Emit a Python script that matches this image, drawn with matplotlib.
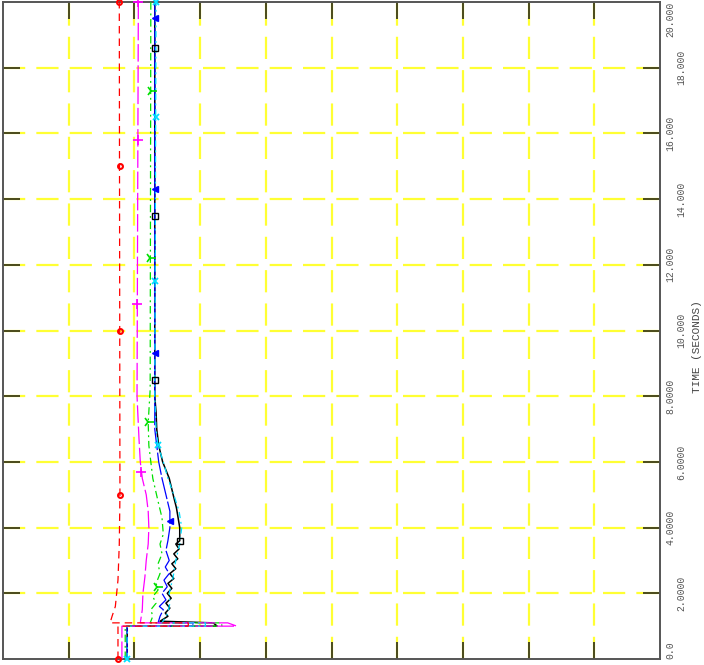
import numpy as np
import matplotlib
matplotlib.use("Agg")
import matplotlib.pyplot as plt
import matplotlib.transforms as mtransforms

# ---------------- data (time in s, value in grid units 0..10) ----------------
time_ticks = [0, 2, 4, 6, 8, 10, 12, 14, 16, 18, 20]
time_tick_labels = ["0.0", "2.0000", "4.0000", "6.0000", "8.0000", "10.000",
                    "12.000", "14.000", "16.000", "18.000", "20.000"]

black_t = [0, 1.0, 1.0, 1.1, 1.15, 1.3, 1.4, 1.55, 1.7, 1.85, 2.0, 2.15, 2.3, 2.45, 2.6,
           2.75, 2.9, 3.05, 3.2, 3.35, 3.5, 3.6, 4.0, 4.6, 5.0, 5.5, 6.0, 6.5, 7.0, 7.5, 8.0, 10.0, 20.0]
black_v = [1.89, 1.89, 3.26, 3.20, 2.39, 2.51, 2.47, 2.54, 2.48, 2.56, 2.50, 2.57, 2.51, 2.60, 2.54,
           2.63, 2.57, 2.66, 2.60, 2.68, 2.63, 2.69, 2.69, 2.64, 2.59, 2.53, 2.43, 2.37, 2.34, 2.33, 2.31, 2.31, 2.31]
black_mk = [3.6, 8.5, 13.5, 18.6]

blue_t = [0, 1.0, 1.0, 1.1, 1.1, 1.3, 1.5, 1.6, 1.8, 2.0, 2.2, 2.4, 2.6, 2.8, 3.0, 3.3, 3.6,
          4.0, 4.5, 5.0, 5.5, 6.0, 7.0, 8.0, 20.0]
blue_v = [1.89, 1.89, 2.89, 2.89, 2.36, 2.39, 2.44, 2.38, 2.48, 2.42, 2.50, 2.45, 2.53, 2.47, 2.53, 2.48, 2.51,
          2.54, 2.54, 2.48, 2.42, 2.37, 2.31, 2.31, 2.31]
blue_mk = [4.2, 9.3, 14.3, 19.5]

cyan_t = [0, 1.0, 1.0, 1.1, 1.1, 1.4, 1.7, 2.0, 2.5, 3.0, 3.5, 4.0, 4.5, 5.0, 5.5, 6.0, 6.5, 7.0, 8.0, 20.0]
cyan_v = [1.89, 1.89, 3.08, 3.08, 2.42, 2.51, 2.54, 2.53, 2.59, 2.63, 2.69, 2.72, 2.68, 2.60, 2.51, 2.44,
          2.36, 2.33, 2.31, 2.33]
cyan_mk = [0.0, 6.5, 11.5, 16.5, 20.0]

green_t = [0, 1.0, 1.0, 1.1, 1.1, 1.3, 1.5, 1.7, 1.9, 2.1, 2.3, 2.6, 2.9, 3.2, 3.5, 3.8, 4.3, 4.8,
           5.5, 6.5, 7.2, 8.2, 20.0]
green_v = [1.86, 1.86, 3.33, 3.33, 2.24, 2.28, 2.25, 2.33, 2.28, 2.36, 2.33, 2.39, 2.36, 2.42, 2.39, 2.44,
           2.42, 2.36, 2.28, 2.22, 2.21, 2.24, 2.25]
green_mk = [2.2, 7.2, 12.2, 17.3]

magenta_t = [0, 1.0, 1.0, 1.1, 1.1, 1.5, 2.0, 2.5, 3.0, 3.5, 4.0, 4.5, 5.0, 5.5, 6.0, 6.7, 8.0, 20.0]
magenta_v = [1.81, 1.81, 3.56, 3.42, 2.09, 2.12, 2.13, 2.16, 2.18, 2.21, 2.22, 2.21, 2.18, 2.12, 2.09,
             2.07, 2.04, 2.06]
magenta_mk = [5.7, 10.8, 15.8, 20.0]

red_t = [0, 1.0, 1.0, 1.1, 1.1, 1.3, 1.6, 2.4, 3.5, 5.0, 20.0]
red_v = [1.75, 1.75, 2.82, 2.82, 1.63, 1.66, 1.71, 1.75, 1.77, 1.78, 1.77]
red_mk = [0.0, 5.0, 10.0, 15.0, 20.0]

# ---------------- figure ----------------
W, H = 704, 665
fig = plt.figure(figsize=(W / 100, H / 100), dpi=100)
ax = fig.add_axes([3 / W, 6 / H, 657 / W, 657 / H])
ax.set_xlim(0, 10)
ax.set_ylim(0, 20)

grid_col = "#ffff33"
tick_col = "#4a4a1e"
for gx in range(1, 10):
    ax.axvline(gx, color=grid_col, lw=1.6, dashes=(10, 5), zorder=0)
for gy in time_ticks[1:-1]:
    ax.axhline(gy, color=grid_col, lw=1.6, dashes=(10, 5), zorder=0)

ax.set_xticks(range(1, 10))
ax.set_yticks(time_ticks[1:-1])
ax.tick_params(axis="both", which="both", direction="in", length=12, width=1.4, color=tick_col,
               top=True, bottom=True, left=True, right=True,
               labelbottom=False, labelleft=False, labeltop=False, labelright=False)
for sp in ax.spines.values():
    sp.set_color("#555555")
    sp.set_linewidth(1.4)


def draw(t, v, mk_t, color, ls, marker, ms, mfc=None, lw=0.9, mew=1.0):
    ax.plot(v, t, color=color, lw=lw, **ls, zorder=3)
    mv = np.interp(mk_t, t, v)
    ax.plot(mv, mk_t, ls="none", marker=marker, ms=ms, color=color,
            mfc=mfc if mfc is not None else color, mew=mew, zorder=4, clip_on=False)


draw(black_t, black_v, black_mk, "black", dict(ls="-"), "s", 5, mfc="none", lw=1.1)
draw(blue_t, blue_v, blue_mk, "#0000ff", dict(dashes=(18, 2)), "<", 5)
draw(green_t, green_v, green_mk, "#00e000", dict(dashes=(6, 3, 1.5, 3)), "4", 8, mew=1.2)
draw(magenta_t, magenta_v, magenta_mk, "#ff00ff", dict(dashes=(14, 3)), "+", 7, mew=1.2)
draw(cyan_t, cyan_v, cyan_mk, "#00e0ff", dict(dashes=(5, 3, 1.5, 3)), "x", 5, mew=1.3)
draw(red_t, red_v, red_mk, "#ff0000", dict(dashes=(6, 4)), "o", 3.5, mfc="none", mew=1.5)

# right-hand time labels (rotated)
trans = mtransforms.blended_transform_factory(fig.transFigure, ax.transData)
for i, (tv, lab) in enumerate(zip(time_ticks, time_tick_labels)):
    xpos = (670 if i % 2 == 0 else 681) / W
    va = "center"
    if i == 0:
        va = "bottom"
    if i == len(time_ticks) - 1:
        va = "top"
    ax.text(xpos, tv, lab, transform=trans, rotation=90, ha="center", va=va,
            fontsize=7, family="Liberation Mono", color="#555555")

fig.text(697 / W, 1 - 347 / H, "TIME (SECONDS)", rotation=90, ha="center", va="center",
         fontsize=8, family="Liberation Mono", color="#444444")

fig.savefig("out.png", dpi=100)
